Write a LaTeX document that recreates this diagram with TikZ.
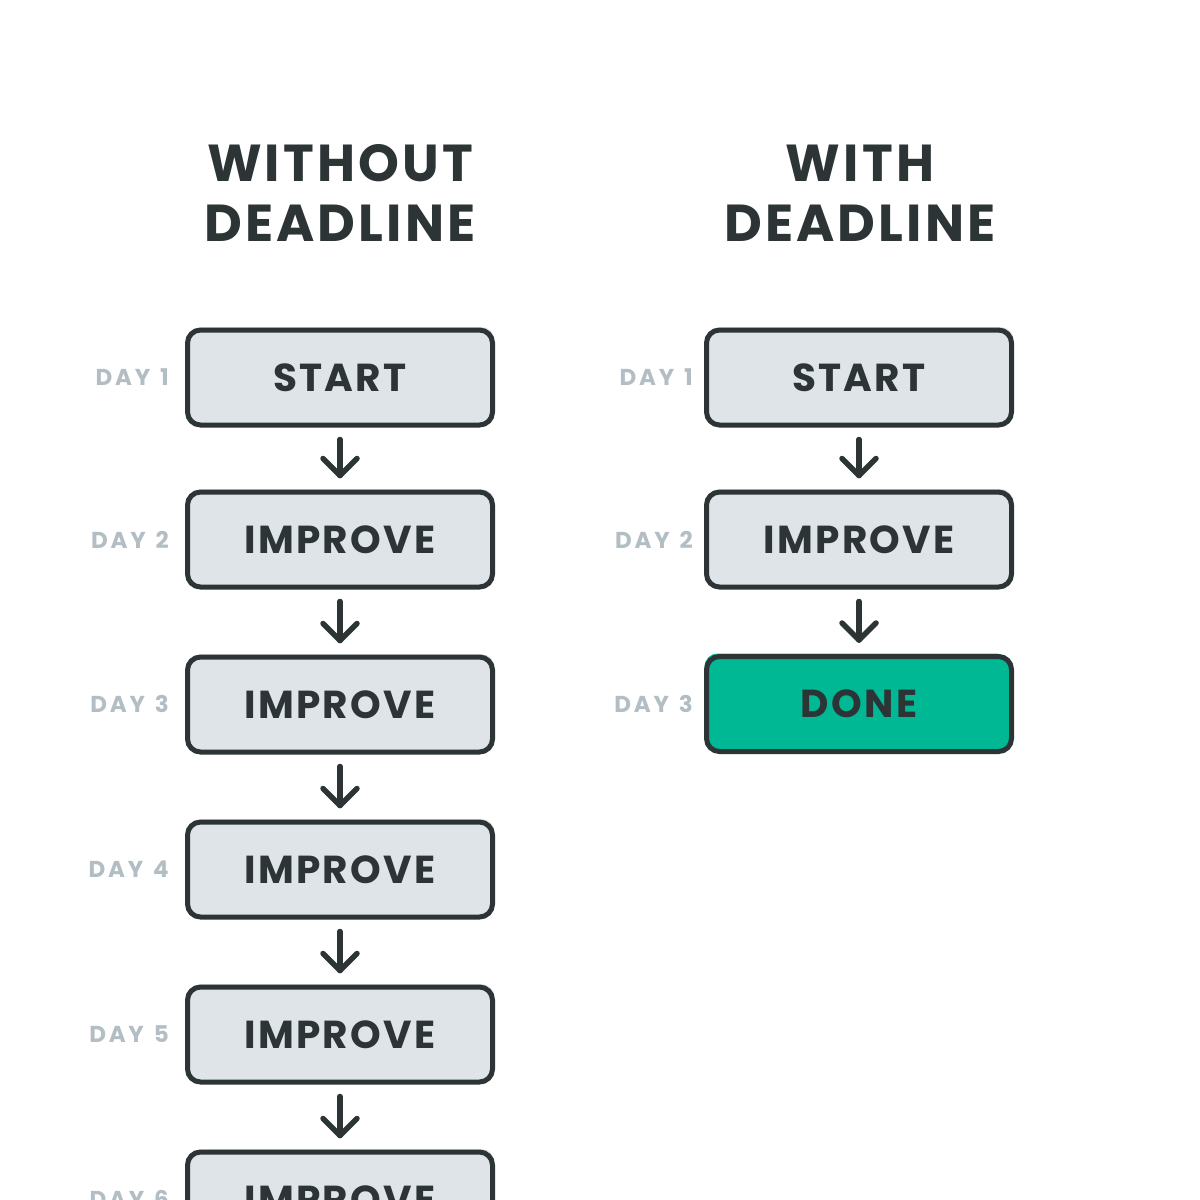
\documentclass[tikz,border=0pt]{standalone}
\usepackage{fontspec}
\setmainfont{Poppins}
\newfontfamily\titlefont[LetterSpace=6]{Poppins}
\newfontfamily\boxfont[LetterSpace=6]{Poppins}
\newfontfamily\dayfont[LetterSpace=12,WordSpace=1.3]{Poppins}
\usetikzlibrary{calc}
\definecolor{ink}{HTML}{2D3436}
\definecolor{boxfill}{HTML}{DFE4E8}
\definecolor{daygray}{HTML}{B2BEC3}
\definecolor{donegreen}{HTML}{00B894}
\tikzset{
  stepbox/.style={draw=ink, line width=5pt, fill=boxfill, rounded corners=13pt,
    minimum width=305pt, minimum height=95pt, inner sep=0pt,
    preaction={fill=boxfill, transform canvas={shift={(2pt,3pt)}}},
    font=\boxfont\bfseries\fontsize{39}{39}\selectfont, text=ink},
  donebox/.style={draw=ink, line width=5pt, fill=donegreen, rounded corners=13pt,
    minimum width=305pt, minimum height=95pt, inner sep=0pt,
    preaction={fill=donegreen, transform canvas={shift={(-2pt,3pt)}}},
    font=\boxfont\bfseries\fontsize{39}{39}\selectfont, text=ink},
  daylabel/.style={font=\dayfont\bfseries\fontsize{23}{23}\selectfont, text=daygray, anchor=east, inner sep=0pt},
  titletext/.style={font=\titlefont\bfseries\fontsize{52}{60}\selectfont, text=ink, align=center, inner sep=0pt},
  arr/.style={draw=ink, line width=5.5pt, line cap=round, line join=round}
}
\newcommand\flowarrow[2]{%
  \draw[arr] ($(#1.south)+(0,12)$) -- ($(#2.north)+(0,-14)$);
  \draw[arr] ($(#2.north)+(-17,-31)$) -- ($(#2.north)+(0,-14)$) -- ($(#2.north)+(17,-31)$);}
\begin{document}
\begin{tikzpicture}[x=1pt, y=-1pt]
\useasboundingbox (0,0) rectangle (1200,1200);
\fill[white] (0,0) rectangle (1200,1200);
\clip (0,0) rectangle (1200,1200);
% titles
\node[titletext] (t1) at (340,193) {WITHOUT\\DEADLINE};
\node[titletext] (t2) at (860,193) {WITH\\DEADLINE};
% left column
\node[stepbox] (l1) at (340,377.5) {START};
\node[stepbox] (l2) at (340,539.5) {IMPROVE};
\node[stepbox] (l3) at (340,704.5) {IMPROVE};
\node[stepbox] (l4) at (340,869.5) {IMPROVE};
\node[stepbox] (l5) at (340,1034.5) {IMPROVE};
\node[stepbox] (l6) at (340,1199.5) {IMPROVE};
\flowarrow{l1}{l2}
\flowarrow{l2}{l3}
\flowarrow{l3}{l4}
\flowarrow{l4}{l5}
\flowarrow{l5}{l6}
\node[daylabel] (d1) at (169,377) {DAY 1};
\node[daylabel] (d2) at (169,540) {DAY 2};
\node[daylabel] (d3) at (169,704) {DAY 3};
\node[daylabel] (d4) at (169,869) {DAY 4};
\node[daylabel] (d5) at (169,1034) {DAY 5};
\node[daylabel] (d6) at (169,1199) {DAY 6};
% right column
\node[stepbox] (r1) at (859,377.5) {START};
\node[stepbox] (r2) at (859,539.5) {IMPROVE};
\node[donebox] (r3) at (859,704) {DONE};
\flowarrow{r1}{r2}
\flowarrow{r2}{r3}
\node[daylabel] (e1) at (693,377) {DAY 1};
\node[daylabel] (e2) at (693,540) {DAY 2};
\node[daylabel] (e3) at (693,704) {DAY 3};
\end{tikzpicture}
\end{document}
